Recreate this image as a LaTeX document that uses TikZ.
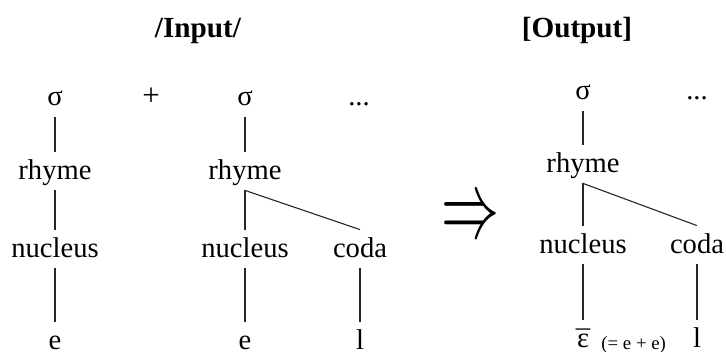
\documentclass[tikz,border=0pt]{standalone}
\usepackage{fontspec}
\setmainfont{Liberation Serif}
% epsilon carrying a macron set just above the letter
\newcommand{\epsbar}{\ooalign{ε\cr\hidewidth\raisebox{-1.9pt}{¯}\hidewidth\cr}}
\begin{document}
\begin{tikzpicture}[x=0.5pt,y=-0.5pt,
  lbl/.style={inner xsep=0pt,inner ysep=0pt,text height=13.5pt,text depth=5.5pt,
    anchor=base,font=\fontsize{14.3}{17}\selectfont},
  leaf/.style={lbl,text depth=0pt},
  ttl/.style={inner sep=0pt,anchor=base,font=\fontsize{14.6}{17}\selectfont\bfseries},
  sub/.style={inner sep=0pt,anchor=base west,font=\fontsize{9.4}{11}\selectfont},
  edge/.style={line width=0.55pt,draw=black!85}]
\useasboundingbox (0,0) rectangle (726,352);

% headings
\node[ttl] (hin)  at (198,38) {/Input/};
\node[ttl] (hout) at (577,38) {[Output]};

% first input syllable
\node[lbl] (s1) at (55,106) {σ};
\node[lbl] (r1) at (55,179) {rhyme};
\node[lbl] (n1) at (55,257) {nucleus};
\node[leaf] (e1) at (55,349) {e};

\node[lbl,font=\fontsize{15.5}{17}\selectfont] (plus) at (151,106) {+};

% second input syllable
\node[lbl] (s2) at (245,106) {σ};
\node[lbl] (r2) at (245,179) {rhyme};
\node[lbl] (n2) at (245,257) {nucleus};
\node[lbl] (c2) at (360,257) {coda};
\node[leaf] (e2) at (245,349) {e};
\node[leaf] (l2) at (360,349) {l};
\node[lbl] (dots1) at (359,106) {...};

% rewrite arrow
\node[inner sep=0pt] (arr) at (470,219.5) {\resizebox*{29pt}{17.5pt}{$\Rightarrow$}};

% output syllable
\node[lbl] (s3) at (583,100) {σ};
\node[lbl] (r3) at (583,172) {rhyme};
\node[lbl] (n3) at (583,253) {nucleus};
\node[lbl] (c3) at (697,253) {coda};
\node[leaf] (e3) at (583,347) {\epsbar};
\node[sub] (eq3) at (601,349) {(= e + e)};
\node[leaf] (l3) at (697,347) {l};
\node[lbl] (dots2) at (697,100) {...};

% branches
\draw[edge] (s1) -- (r1);
\draw[edge] (r1) -- (n1);
\draw[edge] (n1) -- (e1);

\draw[edge] (s2) -- (r2);
\draw[edge] (r2) -- (n2);
\draw[edge] (r2.south) -- (c2.north);
\draw[edge] (n2) -- (e2);
\draw[edge] (c2) -- (l2);

\draw[edge] (s3) -- (r3);
\draw[edge] (r3) -- (n3);
\draw[edge] (r3.south) -- (c3.north);
\draw[edge] (n3) -- (e3);
\draw[edge] (c3) -- (l3);
\end{tikzpicture}
\end{document}
